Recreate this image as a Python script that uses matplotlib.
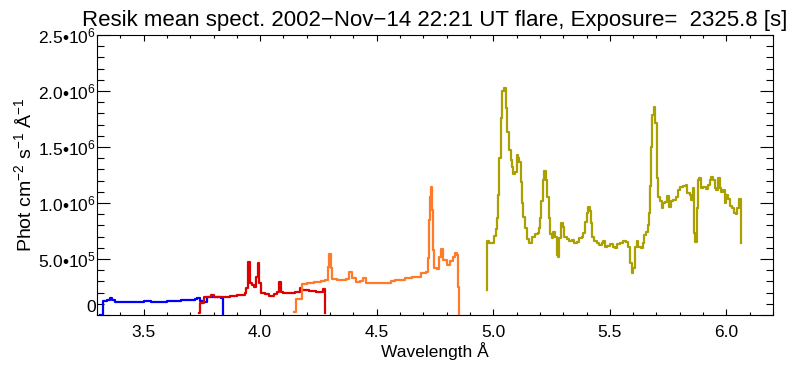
import matplotlib
matplotlib.use("Agg")
import matplotlib.pyplot as plt
from matplotlib.ticker import MultipleLocator, FixedLocator

plt.rcParams['font.family'] = ['Liberation Sans', 'DejaVu Sans']
plt.rcParams['mathtext.fontset'] = 'custom'
plt.rcParams['mathtext.rm'] = 'Liberation Sans'
plt.rcParams['mathtext.it'] = 'Liberation Sans:italic'
plt.rcParams['mathtext.bf'] = 'Liberation Sans:bold'

# ---- data (wavelength in Angstrom, flux in phot cm^-2 s^-1 A^-1) ----
ch1_wave = [3.313, 3.327, 3.345, 3.356, 3.365, 3.378, 3.40, 3.42, 3.45, 3.48,
            3.50, 3.53, 3.56, 3.60, 3.63, 3.66, 3.70, 3.72, 3.728, 3.74,
            3.755, 3.77, 3.80, 3.83, 3.839]
ch1_flux = [0, 125e3, 130e3, 155e3, 130e3, 112e3, 118e3, 113e3, 120e3, 118e3,
            121e3, 116e3, 119e3, 122e3, 128e3, 131e3, 134e3, 142e3, 150e3, 125e3,
            120e3, 162e3, 158e3, 155e3, 0]

ch2_wave = [3.738, 3.742, 3.76, 3.788, 3.80, 3.842, 3.871, 3.90, 3.935, 3.941,
            3.947, 3.956, 3.965, 3.975, 3.982, 3.989, 3.996, 4.002, 4.02, 4.04,
            4.06, 4.072, 4.081, 4.09, 4.10, 4.13, 4.15, 4.17, 4.18, 4.21,
            4.24, 4.25, 4.271, 4.278]
ch2_flux = [15e3, 110e3, 164e3, 179e3, 160e3, 158e3, 172e3, 179e3, 194e3, 238e3,
            476e3, 288e3, 268e3, 250e3, 340e3, 467e3, 283e3, 194e3, 188e3, 172e3,
            185e3, 208e3, 298e3, 208e3, 199e3, 200e3, 208e3, 244e3, 223e3, 218e3,
            208e3, 205e3, 229e3, 20e3]

ch3_wave = [4.145, 4.154, 4.178, 4.20, 4.23, 4.26, 4.28, 4.289, 4.295, 4.302,
            4.31, 4.33, 4.37, 4.383, 4.392, 4.41, 4.43, 4.443, 4.455, 4.48,
            4.53, 4.56, 4.58, 4.62, 4.65, 4.69, 4.71, 4.721, 4.725, 4.729,
            4.733, 4.737, 4.741, 4.745, 4.76, 4.766, 4.774, 4.786, 4.80, 4.814,
            4.829, 4.836, 4.846, 4.850, 4.854]
ch3_flux = [30e3, 140e3, 274e3, 285e3, 292e3, 306e3, 312e3, 430e3, 542e3, 420e3,
            319e3, 312e3, 318e3, 381e3, 330e3, 297e3, 305e3, 328e3, 290e3, 283e3,
            290e3, 300e3, 312e3, 330e3, 342e3, 372e3, 387e3, 506e3, 848e3, 1056e3,
            1140e3, 937e3, 580e3, 417e3, 411e3, 515e3, 586e3, 491e3, 446e3, 485e3,
            515e3, 556e3, 536e3, 253e3, 0]

ch4_wave = [4.972, 4.98, 5.003, 5.010, 5.015, 5.022, 5.026, 5.033, 5.039, 5.047,
            5.055, 5.060, 5.066, 5.075, 5.080, 5.086, 5.093, 5.100, 5.107, 5.112,
            5.118, 5.125, 5.129, 5.136, 5.143, 5.155, 5.167, 5.179, 5.190, 5.196,
            5.200, 5.205, 5.212, 5.219, 5.226, 5.232, 5.238, 5.243, 5.250, 5.257,
            5.265, 5.272, 5.279, 5.283, 5.290, 5.298, 5.304, 5.315, 5.326, 5.336,
            5.346, 5.358, 5.369, 5.379, 5.386, 5.393, 5.400, 5.407, 5.415, 5.419,
            5.424, 5.433, 5.443, 5.455, 5.465, 5.472, 5.479, 5.489, 5.501, 5.512,
            5.522, 5.532, 5.544, 5.558, 5.569, 5.579, 5.587, 5.594, 5.600, 5.608,
            5.615, 5.622, 5.632, 5.641, 5.647, 5.655, 5.662, 5.668, 5.672, 5.676,
            5.682, 5.688, 5.694, 5.701, 5.708, 5.715, 5.722, 5.729, 5.736, 5.746,
            5.755, 5.762, 5.771, 5.783, 5.793, 5.803, 5.815, 5.826, 5.833, 5.843,
            5.850, 5.857, 5.862, 5.867, 5.872, 5.877, 5.883, 5.890, 5.900, 5.911,
            5.921, 5.929, 5.936, 5.943, 5.950, 5.957, 5.964, 5.972, 5.979, 5.986,
            5.993, 6.000, 6.008, 6.015, 6.025, 6.032, 6.040, 6.047, 6.055, 6.061,
            6.062]
ch4_flux = [663e3, 646e3, 708e3, 765e3, 863e3, 1071e3, 1405e3, 1762e3, 2003e3, 2024e3,
            1851e3, 1637e3, 1473e3, 1384e3, 1319e3, 1259e3, 1280e3, 1429e3, 1399e3, 1369e3,
            1190e3, 997e3, 872e3, 774e3, 676e3, 646e3, 699e3, 723e3, 729e3, 774e3,
            863e3, 1020e3, 1205e3, 1288e3, 1205e3, 1051e3, 863e3, 720e3, 685e3, 744e3,
            699e3, 536e3, 515e3, 685e3, 824e3, 788e3, 699e3, 676e3, 663e3, 670e3,
            640e3, 655e3, 685e3, 699e3, 729e3, 833e3, 908e3, 967e3, 931e3, 819e3,
            699e3, 663e3, 640e3, 625e3, 640e3, 663e3, 604e3, 616e3, 631e3, 610e3,
            601e3, 631e3, 646e3, 663e3, 655e3, 610e3, 467e3, 378e3, 417e3, 610e3,
            663e3, 610e3, 595e3, 640e3, 714e3, 744e3, 804e3, 908e3, 1152e3, 1503e3,
            1786e3, 1860e3, 1717e3, 1220e3, 1056e3, 1018e3, 952e3, 997e3, 1012e3, 1062e3,
            961e3, 1020e3, 1027e3, 1051e3, 1116e3, 1146e3, 1152e3, 1161e3, 1087e3, 1071e3,
            1027e3, 1131e3, 729e3, 655e3, 952e3, 1205e3, 1220e3, 1131e3, 1140e3, 1122e3,
            1161e3, 1205e3, 1235e3, 1205e3, 1131e3, 1116e3, 1220e3, 1131e3, 1101e3, 1116e3,
            997e3, 1071e3, 1033e3, 973e3, 952e3, 913e3, 902e3, 952e3, 1033e3, 973e3,
            646e3]
ch4_start_flux = 223e3

channel_colors = ['#0000ff', '#dd0000', '#ff7a2a', '#aaa000']

title_text = "Resik mean spect. 2002\u2212Nov\u221214 22:21 UT flare, Exposure=  2325.8 [s]"
x_label = "Wavelength \u00c5"
y_label = "Phot cm$^{-2}$ s$^{-1}$ \u00c5$^{-1}$"
y_ticks = [0, 5e5, 1e6, 1.5e6, 2e6, 2.5e6]
y_tick_labels = ["0", "5.0\u202210$^{5}$", "1.0\u202210$^{6}$", "1.5\u202210$^{6}$",
                 "2.0\u202210$^{6}$", "2.5\u202210$^{6}$"]
x_ticks = [3.5, 4.0, 4.5, 5.0, 5.5, 6.0]
x_tick_labels = ["3.5", "4.0", "4.5", "5.0", "5.5", "6.0"]

fig = plt.figure(figsize=(8.0, 3.7), dpi=100)
ax = fig.add_axes([97/800, 1 - 315/370, 676/800, 280/370])

lw = 1.6
ax.step(ch1_wave, ch1_flux, where='post', color=channel_colors[0], lw=lw)
ax.step(ch2_wave, ch2_flux, where='post', color=channel_colors[1], lw=lw)
ax.step(ch3_wave, ch3_flux, where='post', color=channel_colors[2], lw=lw)
ax.step([ch4_wave[0]] + ch4_wave, [ch4_start_flux] + ch4_flux, where='post',
        color=channel_colors[3], lw=lw)

ax.set_xlim(3.3, 6.2)
ax.set_ylim(0, 2.5e6)
ax.xaxis.set_major_locator(FixedLocator(x_ticks))
ax.set_xticklabels(x_tick_labels, fontsize=12.5)
ax.xaxis.set_minor_locator(MultipleLocator(0.1))
ax.yaxis.set_major_locator(FixedLocator(y_ticks))
ax.set_yticklabels(y_tick_labels, fontsize=12.5)
ax.yaxis.set_minor_locator(MultipleLocator(1e5))
# the "0" label sits a little above its tick in the reference
ax.get_yticklabels()[0].set_va('bottom')

ax.tick_params(axis='both', which='both', direction='in', top=True, right=True,
               width=0.8, color='black')
ax.tick_params(axis='x', which='major', length=4.3, pad=7)
ax.tick_params(axis='x', which='minor', length=2.2)
ax.tick_params(axis='y', which='major', length=9.7, pad=1)
ax.tick_params(axis='y', which='minor', length=5)
for s in ax.spines.values():
    s.set_linewidth(0.8)

ax.set_title(title_text, fontsize=16, pad=6.5)
ax.set_xlabel(x_label, fontsize=12.5, labelpad=2)
ax.set_ylabel(y_label, fontsize=14, labelpad=2)

fig.savefig("out.png", dpi=100)
